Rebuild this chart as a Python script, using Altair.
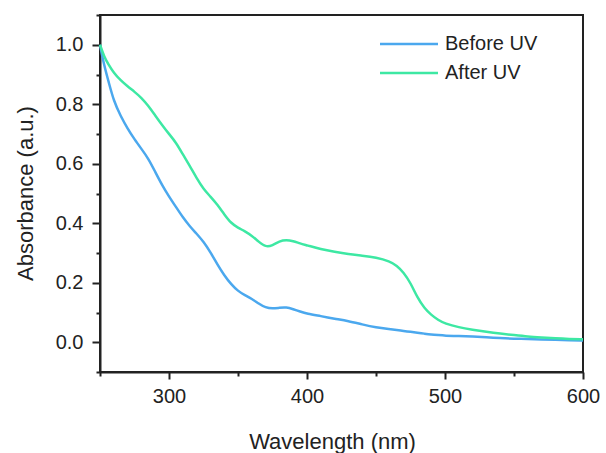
import altair as alt
import pandas as pd

wavelength = [250, 253, 256, 260, 265, 270, 275, 280, 285, 290, 295, 300, 305, 310, 315,
              320, 325, 330, 335, 340, 345, 350, 355, 360, 365, 370, 375, 380, 385, 390,
              395, 400, 410, 420, 430, 440, 450, 460, 465, 470, 475, 480, 485, 490, 495,
              500, 510, 520, 530, 540, 550, 560, 570, 580, 590, 600]

before_uv = [1.000, 0.930, 0.880, 0.810, 0.760, 0.718, 0.682, 0.650, 0.618, 0.573, 0.528,
             0.490, 0.455, 0.420, 0.390, 0.365, 0.338, 0.303, 0.262, 0.225, 0.195, 0.172,
             0.158, 0.146, 0.130, 0.116, 0.113, 0.116, 0.118, 0.111, 0.103, 0.096, 0.088,
             0.079, 0.071, 0.060, 0.050, 0.044, 0.041, 0.038, 0.035, 0.032, 0.029, 0.026,
             0.024, 0.022, 0.021, 0.019, 0.017, 0.014, 0.012, 0.011, 0.009, 0.008, 0.007,
             0.006]

after_uv = [1.000, 0.960, 0.935, 0.905, 0.880, 0.860, 0.842, 0.822, 0.795, 0.762, 0.730,
            0.700, 0.672, 0.632, 0.593, 0.552, 0.515, 0.490, 0.463, 0.430, 0.400, 0.385,
            0.373, 0.358, 0.338, 0.320, 0.325, 0.340, 0.344, 0.340, 0.332, 0.326, 0.313,
            0.304, 0.296, 0.291, 0.285, 0.272, 0.258, 0.235, 0.200, 0.150, 0.115, 0.092,
            0.075, 0.063, 0.050, 0.042, 0.035, 0.029, 0.024, 0.019, 0.016, 0.013, 0.011,
            0.010]

series_names = ["Before UV", "After UV"]
series_colors = ["#4BA8EE", "#3DE8A3"]

x_ticks = list(range(250, 601, 50))
y_ticks = [round(-0.1 + 0.1 * i, 1) for i in range(13)]

df = pd.concat([
    pd.DataFrame({"wavelength": wavelength, "absorbance": before_uv, "series": series_names[0]}),
    pd.DataFrame({"wavelength": wavelength, "absorbance": after_uv, "series": series_names[1]}),
])

FONT = "Liberation Sans"
INK = "#222222"

x_axis = alt.Axis(
    values=x_ticks,
    labelExpr="datum.value % 100 === 0 ? datum.label : ''",
    tickSize={"condition": {"test": "datum.value % 100 === 0", "value": 7}, "value": 4},
    labelFontSize=20, labelPadding=7, labelFont=FONT, labelColor=INK,
    tickColor=INK, tickWidth=2, domainColor=INK, domainWidth=2,
    grid=False, labelFlush=False,
    title="Wavelength (nm)", titleFont=FONT, titleFontSize=22, titleFontWeight="normal",
    titleColor=INK, titleX=232, titleY=76, titleBaseline="alphabetic", titleAlign="center",
)

y_axis = alt.Axis(
    values=y_ticks,
    labelExpr="(abs(round(datum.value*10)) % 2 === 0 && datum.value > -0.05 && datum.value < 1.05) ? format(datum.value, '.1f') : ''",
    tickSize={"condition": {"test": "abs(round(datum.value*10)) % 2 === 0 && datum.value > -0.05 && datum.value < 1.05", "value": 8}, "value": 4},
    labelFontSize=20, labelPadding=9, labelFont=FONT, labelColor=INK,
    tickColor=INK, tickWidth=2, domainColor=INK, domainWidth=2,
    grid=False, labelFlush=False,
    title="Absorbance (a.u.)", titleFont=FONT, titleFontSize=22, titleFontWeight="normal",
    titleColor=INK, titleX=-68, titleY=178, titleBaseline="alphabetic", titleAlign="center",
)

chart = alt.Chart(df).mark_line(interpolate="basis", strokeWidth=2.5).encode(
    x=alt.X("wavelength:Q", scale=alt.Scale(domain=[250, 600], nice=False, zero=False), axis=x_axis),
    y=alt.Y("absorbance:Q", scale=alt.Scale(domain=[-0.1, 1.1], nice=False, zero=False), axis=y_axis),
    color=alt.Color("series:N", scale=alt.Scale(domain=series_names, range=series_colors),
                    sort=series_names,
                    legend=alt.Legend(orient="none", legendX=293, legendY=13, title=None,
                                      symbolType="M-2,0L2,0", symbolSize=841, symbolStrokeWidth=2.5,
                                      labelFontSize=20, labelFont=FONT, labelColor=INK,
                                      labelOffset=20, rowPadding=3)),
    detail="series:N",
).properties(
    width=483, height=357,
    autosize=alt.AutoSizeParams(type="none"),
    padding={"left": 100, "top": 15, "right": 23, "bottom": 81},
    background="white",
).configure_view(stroke=INK, strokeWidth=2)

chart.save("out.html", embed_options={"renderer": "svg", "actions": False})
